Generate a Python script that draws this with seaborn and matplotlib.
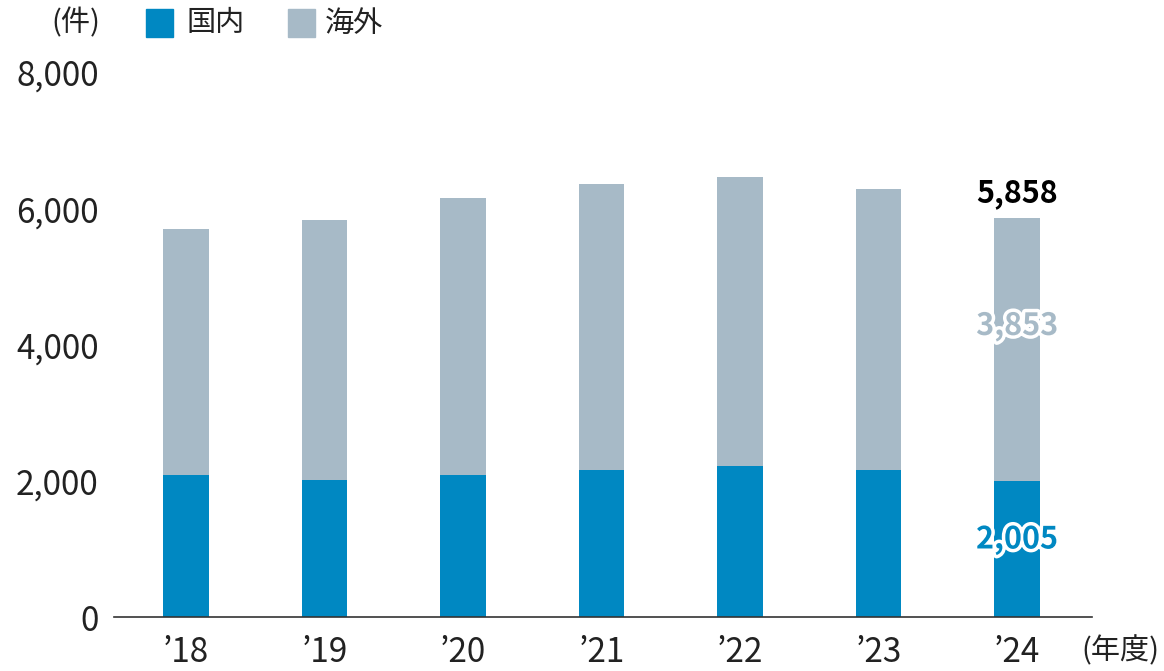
import matplotlib.pyplot as plt
import matplotlib.patheffects as pe
import pandas as pd
import seaborn as sns
from matplotlib.patches import Rectangle

years = ["’18", "’19", "’20", "’21", "’22", "’23", "’24"]
domestic = [2086, 2023, 2086, 2160, 2229, 2170, 2005]
overseas = [3610, 3810, 4066, 4202, 4241, 4119, 3853]
y_ticks = [0, 2000, 4000, 6000, 8000]

BLUE = "#0088C2"
GRAY = "#A7BAC7"


def main():
    sns.set_theme(style="white")
    plt.rcParams["font.family"] = ["Noto Sans CJK JP", "DejaVu Sans"]

    df = pd.DataFrame({"year": years, "domestic": domestic, "overseas": overseas})
    df["total"] = df["domestic"] + df["overseas"]

    fig = plt.figure(figsize=(11.64, 6.71), dpi=100)
    ax = fig.add_axes([0.098, 0.080, 0.840, 0.812])

    sns.barplot(data=df, x="year", y="total", color=GRAY, width=0.33,
                saturation=1, linewidth=0, ax=ax)
    sns.barplot(data=df, x="year", y="domestic", color=BLUE, width=0.33,
                saturation=1, linewidth=0, ax=ax)

    ax.set_xlim(-0.52, len(years) - 1 + 0.54)
    ax.set_ylim(0, 8000)
    ax.set_yticks(y_ticks)
    ax.set_yticklabels([f"{v:,}" for v in y_ticks])
    ax.set_xlabel("")
    ax.set_ylabel("")
    ax.tick_params(axis="y", length=0, pad=11, labelsize=24, labelcolor="#222222")
    ax.tick_params(axis="x", length=0, pad=13, labelsize=24, labelcolor="#222222")

    sns.despine(ax=ax, left=True, top=True, right=True)
    ax.spines["bottom"].set_color("#333333")
    ax.spines["bottom"].set_linewidth(1.2)

    # labels on the latest bar
    last = len(years) - 1
    stroke = [pe.withStroke(linewidth=5, foreground="white")]
    ax.text(last, df["total"].iloc[last] + 130, f"{df['total'].iloc[last]:,}",
            ha="center", va="bottom", fontsize=22, fontweight="bold", color="black")
    ax.text(last, domestic[last] + overseas[last] * 0.59, f"{overseas[last]:,}",
            ha="center", va="center", fontsize=22, fontweight="bold", color=GRAY,
            path_effects=stroke)
    ax.text(last, domestic[last] * 0.57, f"{domestic[last]:,}",
            ha="center", va="center", fontsize=22, fontweight="bold", color=BLUE,
            path_effects=stroke)

    # header legend
    fig.text(0.086, 0.965, "(件)", ha="right", va="center", fontsize=21, color="#222222")
    fig.patches.append(Rectangle((0.125, 0.945), 0.024, 0.041, transform=fig.transFigure,
                                 color=BLUE, figure=fig))
    fig.text(0.160, 0.965, "国内", ha="left", va="center", fontsize=21, color="#222222")
    fig.patches.append(Rectangle((0.247, 0.945), 0.024, 0.041, transform=fig.transFigure,
                                 color=GRAY, figure=fig))
    fig.text(0.279, 0.965, "海外", ha="left", va="center", fontsize=21, color="#222222")

    fig.text(0.996, 0.030, "(年度)", ha="right", va="center", fontsize=21, color="#222222")

    fig.savefig("out.png", dpi=100)
    plt.close(fig)


if __name__ == "__main__":
    main()
